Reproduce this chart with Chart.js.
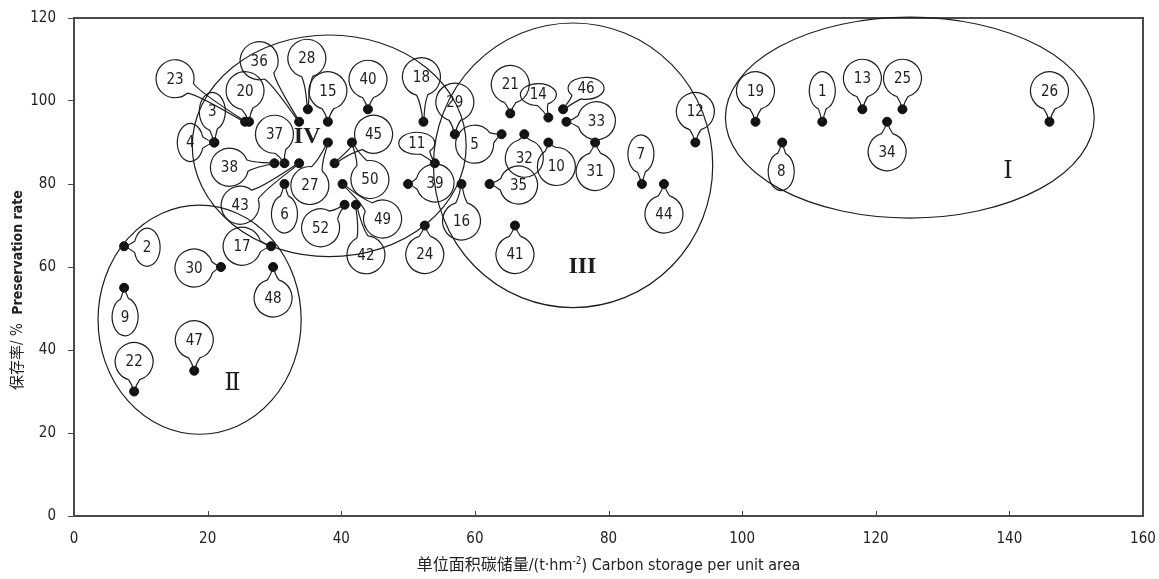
<!DOCTYPE html>
<html>
<head>
<meta charset="utf-8">
<script src="https://cdn.jsdelivr.net/npm/chart.js@4.4.1/dist/chart.umd.min.js"></script>
<style>
  html, body { margin: 0; padding: 0; background: #fff; }
  #wrap { width: 1159px; height: 579px; position: relative; }
</style>
</head>
<body>
<div id="wrap"><canvas id="storage"></canvas></div>
<script>
// site numbers (there is no 51 in the figure)
const siteIds = [1, 2, 3, 4, 5, 6, 7, 8, 9, 10, 11, 12, 13, 14, 15, 16, 17, 18, 19, 20,
  21, 22, 23, 24, 25, 26, 27, 28, 29, 30, 31, 32, 33, 34, 35, 36, 37, 38, 39, 40,
  41, 42, 43, 44, 45, 46, 47, 48, 49, 50, 52];

// carbon storage per unit area, t/hm2
const carbonStorage = [112, 7.5, 21, 21, 64, 31.5, 85, 106, 7.5, 71, 54, 93, 118, 71, 38, 58, 29.5, 52.3, 102, 26.2,
  65.3, 9, 25.6, 52.5, 124, 146, 38, 35, 57, 22, 78, 67.4, 73.7, 121.7, 62.2, 33.7, 31.5, 30, 50, 44,
  66, 42.2, 33.7, 88.3, 39, 73.2, 18, 29.8, 40.2, 41.6, 40.5];

// preservation rate, %
const preservationRate = [95, 65, 90, 90, 92, 80, 80, 90, 55, 90, 85, 90, 98, 96, 95, 80, 65, 95, 95, 95,
  97, 30, 95, 70, 98, 95, 90, 98, 92, 60, 90, 92, 95, 95, 80, 95, 85, 85, 80, 98,
  70, 75, 85, 80, 85, 98, 35, 60, 80, 90, 75];

const xTicks = [0, 20, 40, 60, 80, 100, 120, 140, 160];
const yTicks = [0, 20, 40, 60, 80, 100, 120];

// cluster groups drawn as ellipses (data units)
const clusterNames = ['\u2160', '\u2161', 'III', 'IV'];
const clusterCenterX = [125.1, 18.8, 74.7, 38.2];
const clusterCenterY = [96.0, 47.3, 84.5, 89.2];
const clusterRadiusX = [27.6, 15.2, 20.9, 20.5];
const clusterRadiusY = [24.2, 27.6, 34.3, 26.7];
const clusterLabelX = [139.8, 23.7, 76.1, 34.9];
const clusterLabelY = [82.9, 31.8, 60, 91.3];

// balloon label placement: pixel offset from the point, and balloon shape
const calloutDx = [0, 23, -2, -24, -27, 0, -1, -1, 1, 8, -18, 0, 0, -10, 0, 0, -29, -2, 0, -4,
  0, 0, -70, 0, 0, 0, -18, -1, 0, -27, 0, 0, 30, 0, 29, -40, -10, -45, 27, 0,
  0, 10, -59, 0, 39, 23, 0, 0, 40, 18, -24];
const calloutDy = [-31, 1, -31, 0, 10, 30, -30, 29, 29, 24, -20, -31, -31, -23, -31, 37, 0, -45, -31, -31,
  -29, -30, -43, 29, -31, -31, 43, -51, -32, 1, 29, 24, -1, 30, 1, -61, -29, 4, -1, -30,
  29, 50, 42, 30, -29, -21, -31, 31, 35, 37, 23];
// v = tall oval, h = flat oval, c = circle
const calloutShape = 'vvvvcvvvvc' + 'hcch' + 'c'.repeat(31) + 'h' + 'ccccc';

const SANS = '"Liberation Sans Narrow", "DejaVu Sans Condensed", "Noto Sans CJK SC", sans-serif';
const INK = '#1e1e1e';

function balloon(ctx, px, py, cx, cy, rx, ry) {
  const t = Math.atan2((py - cy) / ry, (px - cx) / rx);
  const d = 0.3;
  const a1 = t + d, a2 = t - d;
  const ex = cx + rx * Math.cos(t), ey = cy + ry * Math.sin(t);
  const len = Math.hypot(px - ex, py - ey) || 1;
  const ux = (px - ex) / len, uy = (py - ey) / len;
  const nx = ex + ux * Math.min(len * 0.4, 8), ny = ey + uy * Math.min(len * 0.4, 8);
  const qx = -uy * 1.6, qy = ux * 1.6;
  ctx.beginPath();
  ctx.ellipse(cx, cy, rx, ry, 0, a1, a2 + Math.PI * 2, false);
  ctx.quadraticCurveTo(nx - qx, ny - qy, px - qx * 0.3, py - qy * 0.3);
  ctx.lineTo(px + qx * 0.3, py + qy * 0.3);
  ctx.quadraticCurveTo(nx + qx, ny + qy, cx + rx * Math.cos(a1), cy + ry * Math.sin(a1));
  ctx.stroke();
}

const frame = {
  id: 'frame',
  beforeDatasetsDraw(chart) {
    const { ctx, chartArea: { left, top, right, bottom }, scales: { x } } = chart;
    ctx.save();
    ctx.strokeStyle = '#4a4a4a';
    ctx.lineWidth = 2;
    ctx.strokeRect(left, top, right - left, bottom - top);
    ctx.lineWidth = 1;
    xTicks.forEach(v => {
      const px = Math.round(x.getPixelForValue(v)) + 0.5;
      ctx.beginPath();
      ctx.moveTo(px, bottom);
      ctx.lineTo(px, bottom - 5);
      ctx.stroke();
    });
    ctx.restore();
  }
};

const clusters = {
  id: 'clusters',
  afterDatasetsDraw(chart) {
    const { ctx, scales: { x, y } } = chart;
    ctx.save();
    ctx.strokeStyle = INK;
    ctx.lineWidth = 1.2;
    clusterNames.forEach((name, i) => {
      const cx = x.getPixelForValue(clusterCenterX[i]);
      const cy = y.getPixelForValue(clusterCenterY[i]);
      const rx = x.getPixelForValue(clusterCenterX[i] + clusterRadiusX[i]) - cx;
      const ry = cy - y.getPixelForValue(clusterCenterY[i] + clusterRadiusY[i]);
      ctx.beginPath();
      ctx.ellipse(cx, cy, rx, ry, 0, 0, Math.PI * 2);
      ctx.stroke();
      ctx.fillStyle = INK;
      ctx.textAlign = 'center';
      ctx.textBaseline = 'middle';
      ctx.font = (i < 2 ? '' : 'bold ') + '24px "Liberation Serif", "DejaVu Serif", serif';
      ctx.fillText(name, x.getPixelForValue(clusterLabelX[i]), y.getPixelForValue(clusterLabelY[i]));
    });
    ctx.restore();
  }
};

const callouts = {
  id: 'callouts',
  afterDatasetsDraw(chart) {
    const { ctx } = chart;
    const pts = chart.getDatasetMeta(0).data;
    ctx.save();
    ctx.strokeStyle = INK;
    ctx.fillStyle = INK;
    ctx.lineWidth = 1.2;
    ctx.font = '15px ' + SANS;
    ctx.textAlign = 'center';
    ctx.textBaseline = 'middle';
    pts.forEach((p, i) => {
      const shape = calloutShape[i];
      const rx = shape === 'v' ? 13 : shape === 'h' ? 18 : 19;
      const ry = shape === 'h' ? 11 : 19;
      const cx = p.x + calloutDx[i], cy = p.y + calloutDy[i];
      balloon(ctx, p.x, p.y, cx, cy, rx, ry);
      ctx.fillText(String(siteIds[i]), cx, cy + 1);
    });
    ctx.restore();
  }
};

function drawRun(ctx, parts, x, y) {
  let total = 0;
  parts.forEach(p => { ctx.font = p.font; total += ctx.measureText(p.text).width; });
  let cur = x - total / 2;
  parts.forEach(p => {
    ctx.font = p.font;
    ctx.fillText(p.text, cur, y + (p.dy || 0));
    cur += ctx.measureText(p.text).width;
  });
}

const titles = {
  id: 'titles',
  afterDraw(chart) {
    const { ctx, chartArea: { left, right } } = chart;
    ctx.save();
    ctx.fillStyle = '#222';
    ctx.textAlign = 'left';
    ctx.textBaseline = 'middle';
    drawRun(ctx, [
      { text: '单位面积碳储量/(t·hm', font: '16px ' + SANS },
      { text: '-2', font: '10px ' + SANS, dy: -5 },
      { text: ') Carbon storage per unit area', font: '16px ' + SANS }
    ], (left + right) / 2, 566);
    ctx.translate(18, 290);
    ctx.rotate(-Math.PI / 2);
    drawRun(ctx, [
      { text: '保存率/ %  ', font: '15px ' + SANS },
      { text: 'Preservation rate', font: 'bold 14px ' + SANS }
    ], 0, 0);
    ctx.restore();
  }
};

new Chart(document.getElementById('storage'), {
  type: 'scatter',
  data: {
    datasets: [{
      data: siteIds.map((id, i) => ({ x: carbonStorage[i], y: preservationRate[i] })),
      backgroundColor: '#111',
      borderColor: '#111',
      pointRadius: 4.5,
      pointHoverRadius: 4.5
    }]
  },
  options: {
    responsive: true,
    maintainAspectRatio: false,
    animation: false,
    layout: { padding: { top: 18, right: 16, left: 0, bottom: 0 } },
    plugins: { legend: { display: false }, tooltip: { enabled: false } },
    scales: {
      x: {
        type: 'linear',
        min: 0,
        max: 160,
        afterFit(s) { s.height = 63; s.paddingRight = 0; s.paddingLeft = 0; },
        afterBuildTicks(s) { s.ticks = xTicks.map(v => ({ value: v })); },
        grid: { drawOnChartArea: false, drawTicks: false },
        border: { color: '#4a4a4a', width: 2 },
        ticks: { padding: 14, color: '#222', font: { family: SANS, size: 15 } }
      },
      y: {
        type: 'linear',
        min: 0,
        max: 120,
        afterFit(s) { s.width = 74; s.paddingTop = 0; s.paddingBottom = 0; },
        afterBuildTicks(s) { s.ticks = yTicks.map(v => ({ value: v })); },
        grid: { drawOnChartArea: false, tickLength: 6, tickColor: '#4a4a4a' },
        border: { color: '#4a4a4a', width: 2 },
        ticks: { padding: 12, color: '#222', font: { family: SANS, size: 15 } }
      }
    }
  },
  plugins: [frame, clusters, callouts, titles]
});
</script>
</body>
</html>
